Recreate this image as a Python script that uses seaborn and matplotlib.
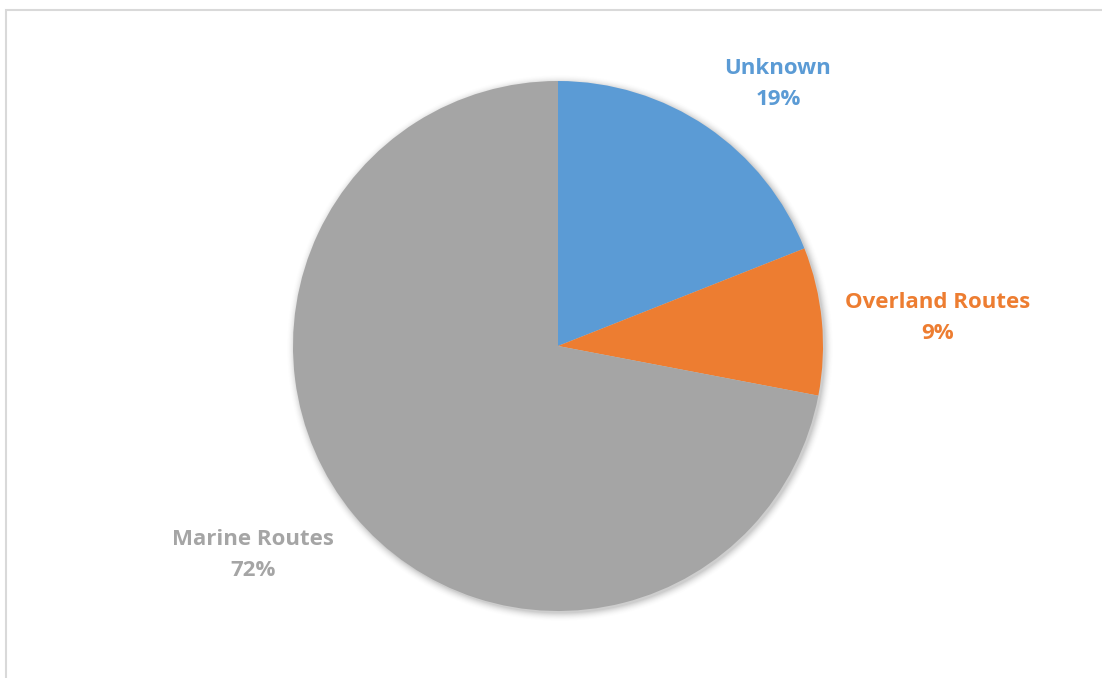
import numpy as np
import matplotlib
matplotlib.use("Agg")
import matplotlib.pyplot as plt
import seaborn as sns

# Share of routes
categories = ["Unknown", "Overland Routes", "Marine Routes"]
shares = [19, 9, 72]
colors = ["#5B9BD5", "#ED7D31", "#A5A5A5"]

sns.set_theme(style="white")
plt.rcParams["font.family"] = ["Open Sans", "DejaVu Sans"]

W, H = 1102, 678
fig = plt.figure(figsize=(W / 100, H / 100), dpi=100)
ax = fig.add_axes([0, 0, 1, 1])
ax.set_xlim(0, W)
ax.set_ylim(0, H)
ax.set_aspect("equal")
ax.axis("off")

cx, cy, r = 558, H - 346, 265

# soft drop shadow behind the pie
yy, xx = np.mgrid[0:H, 0:W]
d = np.hypot(xx + 0.5 - (cx + 2), (H - yy - 0.5) - (cy - 2)) - r
alpha = np.clip(1 - d / 9.0, 0, 1) ** 2 * 0.35
alpha[d < 0] = 0.35
img = np.zeros((H, W, 4))
img[..., :3] = 0.45
img[..., 3] = alpha
ax.imshow(img, extent=(0, W, 0, H), origin="upper", zorder=1, interpolation="bilinear")

ax.pie(shares, colors=colors, startangle=90, counterclock=False,
       center=(cx, cy), radius=r, frame=True,
       wedgeprops=dict(linewidth=0, zorder=2))
ax.set_xlim(0, W)
ax.set_ylim(0, H)
ax.axis("off")

label_pos = [(778, 84), (938, 318), (253, 555)]
for name, val, col, (lx, ly) in zip(categories, shares, colors, label_pos):
    ax.text(lx, H - ly, f"{name}\n{val}%", color=col, fontsize=16,
            fontweight="bold", ha="center", va="center", linespacing=1.65,
            zorder=3)

# chart area border
fig.add_artist(plt.Rectangle((5.5 / W, -0.1), 1.2, (H - 10.5) / H + 0.1,
                             transform=fig.transFigure, fill=False,
                             edgecolor="#D9D9D9", linewidth=1.5))

fig.savefig("out.png", dpi=100)
